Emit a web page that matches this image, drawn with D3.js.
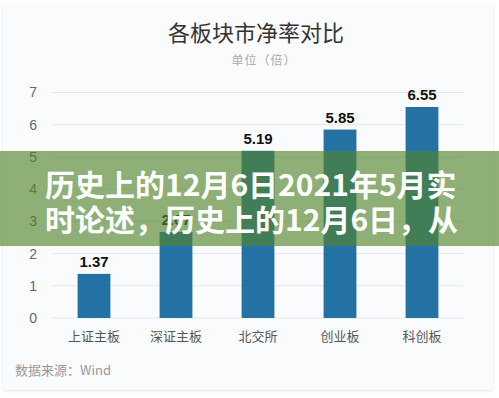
<!DOCTYPE html>
<html>
<head>
<meta charset="utf-8">
<script src="https://cdn.jsdelivr.net/npm/d3@7"></script>
<style>
  html, body { margin: 0; padding: 0; background: #ffffff; }
  svg { display: block; }
</style>
</head>
<body>
<div id="chart"></div>
<script>
"use strict";

// data
var categories = ["上证主板", "深证主板", "北交所", "创业板", "科创板"];
var values = [1.37, 2.67, 5.19, 5.85, 6.55];
var yTicks = [0, 1, 2, 3, 4, 5, 6, 7];
var title = "各板块市净率对比";
var subtitle = "单位（倍）";
var source = "数据来源：Wind";
var bannerLines = ["历史上的12月6日2021年5月实", "时论述，历史上的12月6日，从"];

var width = 499;
var height = 398;
var cjk = "'Noto Sans CJK SC', 'Noto Sans', sans-serif";

var svg = d3.select("#chart").append("svg")
  .attr("width", width)
  .attr("height", height);

// card
var defs = svg.append("defs");
var f = defs.append("filter").attr("id", "sh")
  .attr("x", "-5%").attr("y", "-5%").attr("width", "110%").attr("height", "110%");
f.append("feDropShadow").attr("dx", 0).attr("dy", 1).attr("stdDeviation", 1.5)
  .attr("flood-color", "#000").attr("flood-opacity", 0.12);

svg.append("rect")
  .attr("x", 3).attr("y", 3)
  .attr("width", 490).attr("height", 387)
  .attr("rx", 3)
  .attr("fill", "#fafbfc")
  .attr("filter", "url(#sh)");

// titles
svg.append("text")
  .text(title)
  .attr("x", 256).attr("y", 41)
  .attr("text-anchor", "middle")
  .attr("font-family", cjk)
  .attr("font-size", "22px")
  .attr("fill", "#333");

svg.append("text")
  .text(subtitle)
  .attr("x", 264).attr("y", 65)
  .attr("text-anchor", "middle")
  .attr("font-family", cjk)
  .attr("font-size", "12px")
  .attr("letter-spacing", "1px")
  .attr("fill", "#aaa");

// scales
var x = d3.scaleBand()
  .domain(categories)
  .range([53, 463])
  .paddingInner(0.6)
  .paddingOuter(0.3);

var y = d3.scaleLinear()
  .domain([0, 7])
  .range([318, 92.5]);

// grid lines
svg.append("g").selectAll("line")
  .data(yTicks)
  .enter()
  .append("line")
    .attr("x1", 53).attr("x2", 463)
    .attr("y1", function(d){ return y(d); })
    .attr("y2", function(d){ return y(d); })
    .attr("stroke", "#e6e6e6")
    .attr("stroke-width", 1);

// y axis labels
var yAxis = d3.axisLeft(y).tickValues(yTicks).tickFormat(d3.format("d"))
  .tickSize(0).tickPadding(0);
var ya = svg.append("g").attr("transform", "translate(37,0)").call(yAxis);
ya.select(".domain").remove();
ya.selectAll("text")
  .attr("font-family", "'Liberation Sans', Arial, sans-serif")
  .attr("font-size", "14px")
  .attr("fill", "#666");

// bars
svg.append("g").selectAll("rect")
  .data(values)
  .enter()
  .append("rect")
    .attr("x", function(d, i){ return x(categories[i]); })
    .attr("y", function(d){ return y(d); })
    .attr("width", x.bandwidth())
    .attr("height", function(d){ return y(0) - y(d); })
    .attr("fill", "#2472a4");

// value labels
svg.append("g").selectAll("text")
  .data(values)
  .enter()
  .append("text")
    .text(function(d){ return d.toFixed(2); })
    .attr("x", function(d, i){ return x(categories[i]) + x.bandwidth() / 2; })
    .attr("y", function(d){ return y(d) - 7; })
    .attr("text-anchor", "middle")
    .attr("font-family", "'Liberation Sans', Arial, sans-serif")
    .attr("font-weight", "bold")
    .attr("font-size", "15px")
    .attr("fill", "#111");

// x axis labels
var xAxis = d3.axisBottom(x).tickSize(0).tickPadding(0);
var xa = svg.append("g").attr("transform", "translate(0,341)").call(xAxis);
xa.select(".domain").remove();
xa.selectAll("text")
  .attr("dy", 0)
  .attr("font-family", cjk)
  .attr("font-size", "13px")
  .attr("fill", "#555");

// source
svg.append("text")
  .text(source)
  .attr("x", 15).attr("y", 375)
  .attr("font-family", cjk)
  .attr("font-size", "13px")
  .attr("fill", "#999");

// overlay banner
svg.append("rect")
  .attr("x", 0).attr("y", 151)
  .attr("width", width).attr("height", 95)
  .attr("fill", "rgb(82,132,42)")
  .attr("fill-opacity", 0.64);

svg.append("g").selectAll("text")
  .data(bannerLines)
  .enter()
  .append("text")
    .text(function(d){ return d; })
    .attr("x", 45)
    .attr("y", function(d, i){ return 196 + i * 35; })
    .attr("font-family", cjk)
    .attr("font-weight", "bold")
    .attr("font-size", "30px")
    .attr("fill", "#ffffff");
</script>
</body>
</html>
